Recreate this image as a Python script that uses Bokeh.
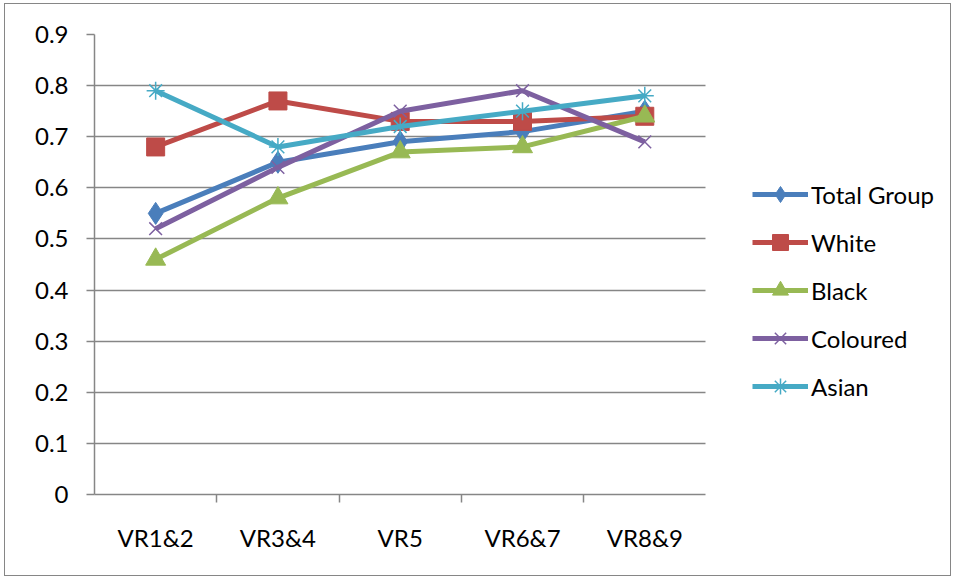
from bokeh.plotting import figure
from bokeh.models import (Range1d, FactorRange, CategoricalAxis, CategoricalScale, FixedTicker,
                          NumeralTickFormatter, Legend, LegendItem)
from bokeh.embed import file_html
from bokeh.resources import INLINE

categories = ["VR1&2", "VR3&4", "VR5", "VR6&7", "VR8&9"]
total_group = [0.55, 0.65, 0.69, 0.71, 0.75]
white = [0.68, 0.77, 0.73, 0.73, 0.74]
black = [0.46, 0.58, 0.67, 0.68, 0.74]
coloured = [0.52, 0.64, 0.75, 0.79, 0.69]
asian = [0.79, 0.68, 0.72, 0.75, 0.78]
y_ticks = [0, 0.1, 0.2, 0.3, 0.4, 0.5, 0.6, 0.7, 0.8, 0.9]
series_names = ["Total Group", "White", "Black", "Coloured", "Asian"]

FONT = "Lato"
FSIZE = "24px"
GRAY = "#868686"

# two blank factors on the right leave room for the legend inside the frame
pads = [" ", "  "]
n = len(categories)

p = figure(width=945, height=571, x_range=FactorRange(*(categories + pads)),
           y_range=Range1d(0, 0.9),
           output_backend="svg", toolbar_location=None, x_axis_location=None,
           min_border_left=89, min_border_top=30, min_border_right=0,
           min_border_bottom=81)
p.outline_line_color = None
p.background_fill_color = "white"
p.border_fill_color = "white"
p.styles = {"margin-left": "5px", "margin-top": "4px",
            "outline": "1px solid #868686", "outline-offset": "0px"}

# y axis
ya = p.yaxis[0]
ya.ticker = FixedTicker(ticks=y_ticks, minor_ticks=[])
ya.formatter = NumeralTickFormatter(format="0.[0]")
ya.axis_line_color = GRAY
ya.axis_line_width = 1.5
ya.major_tick_line_color = GRAY
ya.major_tick_line_width = 1.5
ya.major_tick_out = 8
ya.major_tick_in = 0
ya.minor_tick_line_color = None
ya.major_label_text_font = FONT
ya.major_label_text_font_size = FSIZE
ya.major_label_text_color = "black"
ya.major_label_standoff = 18

yg = p.ygrid[0]
yg.ticker = FixedTicker(ticks=y_ticks)
yg.grid_line_color = GRAY
yg.grid_line_width = 1.5
if "cross_bounds" in yg.properties():
    yg.cross_bounds = (0, n)
p.xgrid.grid_line_color = None

# boundary tick axis: one blank factor per category edge, shifted by half a factor
edges = ["\u2009" * (i + 1) for i in range(n + len(pads) + 1)]
p.extra_x_ranges = {"edges": FactorRange(*edges, range_padding=-0.5,
                                         range_padding_units="absolute")}
p.extra_x_scales = {"edges": CategoricalScale()}
ta = CategoricalAxis(x_range_name="edges", bounds=(0.5, n + 0.5))
ta.axis_line_color = GRAY
ta.axis_line_width = 1.5
ta.major_tick_line_color = GRAY
ta.major_tick_line_width = 1.5
ta.major_tick_out = 8
ta.major_tick_in = 0
ta.major_label_text_font_size = "0px"
ta.major_label_standoff = 0
p.add_layout(ta, "below")

# category label axis
xa = CategoricalAxis()
xa.axis_line_color = None
xa.major_tick_line_color = None
xa.major_label_text_font = FONT
xa.major_label_text_font_size = FSIZE
xa.major_label_text_color = "black"
xa.major_label_standoff = 14
p.add_layout(xa, "below")

colors = ["#4A7EBB", "#BE4B48", "#98B954", "#7D60A0", "#46AAC5"]
markers = ["diamond", "square", "triangle", "x", "asterisk"]
sizes = [22, 18, 20, 18, 18]
data = [total_group, white, black, coloured, asian]

items = []
for name, vals, c, m, s in zip(series_names, data, colors, markers, sizes):
    lr = p.line(categories, vals, line_color=c, line_width=5)
    if m in ("x", "asterisk"):
        sr = p.scatter(categories, vals, marker=m, size=s, line_color=c, line_width=1.5)
    else:
        sr = p.scatter(categories, vals, marker=m, size=s, fill_color=c, line_color=c)
    items.append(LegendItem(label=name, renderers=[lr, sr]))

legend = Legend(items=items, location=(658, 88), orientation="vertical")
legend.margin = 0
legend.padding = 0
legend.border_line_color = None
legend.background_fill_alpha = 0
legend.glyph_width = 56
legend.glyph_height = 40
legend.label_height = 40
legend.spacing = 8
legend.label_standoff = 3
legend.label_text_font = FONT
legend.label_text_font_size = FSIZE
legend.label_text_color = "black"
p.add_layout(legend, "center")

open("out.html", "w").write(file_html(p, INLINE))
